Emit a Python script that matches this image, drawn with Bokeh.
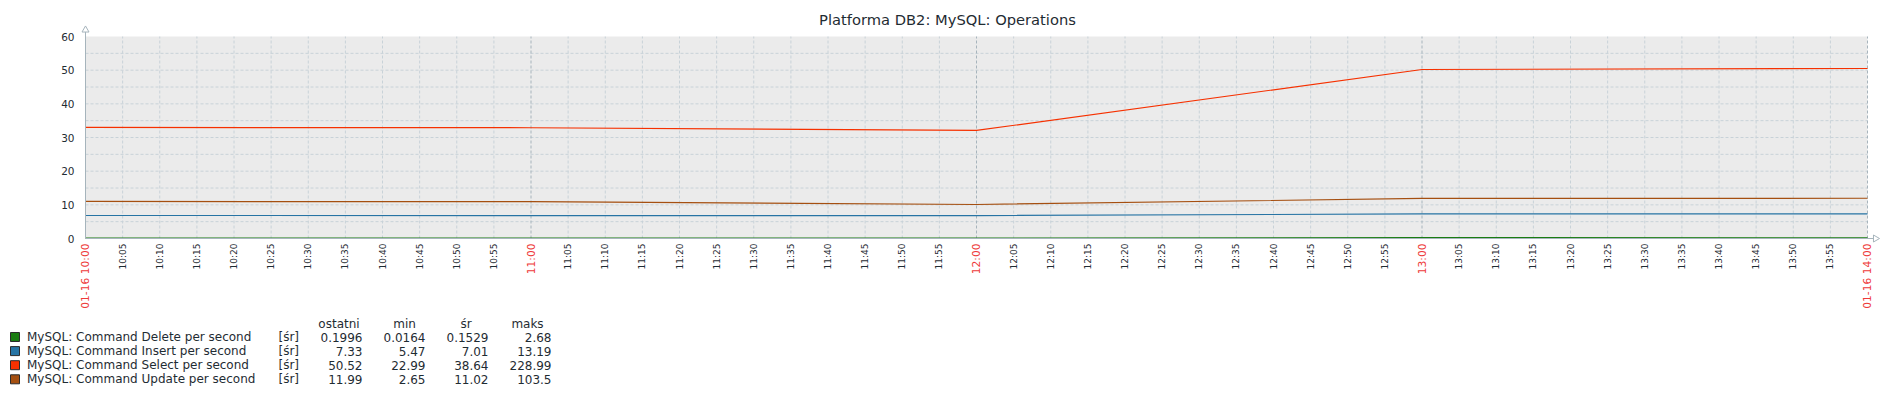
import pandas as pd
from math import pi
from bokeh.plotting import figure
from bokeh.models import Range1d
from bokeh.core.properties import value
from bokeh.embed import file_html
from bokeh.resources import INLINE

# ---------------- data ----------------
title_text = "Platforma DB2: MySQL: Operations"
times = pd.to_datetime(["2024-01-16 10:00", "2024-01-16 11:00", "2024-01-16 12:00",
                        "2024-01-16 13:00", "2024-01-16 14:00"])
delete_vals = [0.10, 0.10, 0.10, 0.25, 0.20]
insert_vals = [6.83, 6.82, 6.80, 7.30, 7.33]
select_vals = [33.0, 32.9, 32.1, 50.2, 50.5]
update_vals = [11.0, 10.95, 10.1, 11.9, 11.95]

series_names = ["MySQL: Command Delete per second", "MySQL: Command Insert per second",
                "MySQL: Command Select per second", "MySQL: Command Update per second"]
series_colors = ["#1A7C11", "#2774A4", "#F63100", "#A54F10"]
func_label = "[śr]"
col_headers = ["ostatni", "min", "śr", "maks"]
last_vals = ["0.1996", "7.33", "50.52", "11.99"]
min_vals = ["0.0164", "5.47", "22.99", "2.65"]
avg_vals = ["0.1529", "7.01", "38.64", "11.02"]
max_vals = ["2.68", "13.19", "228.99", "103.5"]

y_ticks = [0, 10, 20, 30, 40, 50, 60]
y_tick_labels = ["0", "10", "20", "30", "40", "50", "60"]
y_grid = [5, 10, 15, 20, 25, 30, 35, 40, 45, 50, 55]
hour_labels = ["01-16 10:00", "11:00", "12:00", "13:00", "01-16 14:00"]
five_min = pd.date_range("2024-01-16 10:00", "2024-01-16 14:00", freq="5min")
minor_times = [t for t in five_min if t.minute != 0]
minor_labels = [t.strftime("%H:%M") for t in minor_times]

# ---------------- styles / layout ----------------
TXT = "#1f2c33"
RED = "#ee3a3a"
AXIS = "#a6b4bc"
GRID = "#c8d2d8"
GRID_MAJ = "#a7b4bc"
BG = "#ebebeb"
FONT = value("DejaVu Sans")

W, HT = 1890, 389                    # canvas (page pixels)
FL, FR, FT, FB = 85, 1867, 36, 238   # plot area edges in page pixels
Y0, Y1 = 0, 60

def ms(t):
    return t.value / 1e6

t0, t1 = ms(times[0]), ms(times[-1])
ms_per_px = (t1 - t0) / (FR - FL)
val_per_px = (Y1 - Y0) / (FB - FT)

p = figure(width=W, height=HT, x_range=Range1d(0, W), y_range=Range1d(HT, 0),
           output_backend="svg", toolbar_location=None, min_border=0,
           x_axis_location=None, y_axis_location=None)
p.grid.visible = False
p.outline_line_color = None
p.background_fill_color = "white"
p.border_fill_color = "white"
# time / value scales placed so that the chart area is [FL,FR] x [FT,FB]
p.extra_x_ranges = {"time": Range1d(t0 - FL * ms_per_px, t1 + (W - FR) * ms_per_px)}
p.extra_y_ranges = {"val": Range1d(Y0 - (HT - FB) * val_per_px, Y1 + FT * val_per_px)}
TV = dict(x_range_name="time", y_range_name="val")

# chart area background
p.quad(left=[t0], right=[t1], bottom=[Y0], top=[Y1], fill_color=BG, line_color=None, **TV)

# grid
p.segment(x0=t0, x1=t1, y0=y_grid, y1=y_grid, line_color=GRID, line_dash="3 2", line_width=1, **TV)
minor_ms = [ms(t) for t in minor_times]
p.segment(x0=minor_ms, x1=minor_ms, y0=Y0, y1=Y1, line_color=GRID, line_dash="3 2", line_width=1, **TV)
hour_ms = [ms(t) for t in times[1:]]
p.segment(x0=hour_ms, x1=hour_ms, y0=Y0, y1=Y1, line_color=GRID_MAJ, line_dash="3 2", line_width=1, **TV)

# series
for vals, col in zip([delete_vals, insert_vals, select_vals, update_vals], series_colors):
    p.line([ms(t) for t in times], vals, line_color=col, line_width=1.2, **TV)

# axes lines with arrow heads
p.segment(x0=[t0], x1=[t0], y0=[Y0], y1=[Y1 + 5 * val_per_px], line_color=AXIS, line_width=1, **TV)
p.segment(x0=[t0], x1=[t1 + 6 * ms_per_px], y0=[Y0], y1=[Y0], line_color=AXIS, line_width=1, **TV)
p.scatter(x=[t0], y=[Y1 + 6.5 * val_per_px], marker="triangle", size=7, angle=0,
          fill_color="white", line_color=AXIS, line_width=1, **TV)
p.scatter(x=[t1 + 8 * ms_per_px], y=[Y0], marker="triangle", size=7, angle=-pi / 2,
          fill_color="white", line_color=AXIS, line_width=1, **TV)

# y tick labels
p.text(x=FL - 11, y=y_ticks, text=y_tick_labels, y_range_name="val", text_align="right",
       text_baseline="middle", text_font=FONT, text_font_size="10.5px", text_color=TXT)

# title
p.text(x=[947], y=[19], text=[title_text], text_align="center", text_baseline="middle",
       text_font=FONT, text_font_size="14.7px", text_color=TXT)

# rotated time labels
p.text(x=minor_ms, y=FB + 5, text=minor_labels, angle=pi / 2, x_range_name="time",
       text_align="right", text_baseline="middle", text_font=FONT,
       text_font_size="9px", text_color=TXT)
p.text(x=[ms(t) for t in times], y=FB + 5, text=hour_labels, angle=pi / 2, x_range_name="time",
       text_align="right", text_baseline="middle", text_font=FONT,
       text_font_size="10.7px", text_color=RED)

# legend table
LEG_FS = "12px"
rows_y = [336.5 + 14.1 * i for i in range(len(series_names))]
p.rect(x=14.5, y=rows_y, width=9, height=9, fill_color=series_colors, line_color="#2b2b2b", line_width=1)
p.text(x=26.5, y=rows_y, text=series_names, text_align="left", text_baseline="middle",
       text_font=FONT, text_font_size=LEG_FS, text_color=TXT)
p.text(x=278, y=rows_y, text=[func_label] * len(series_names), text_align="left", text_baseline="middle",
       text_font=FONT, text_font_size=LEG_FS, text_color=TXT)
for xr, vals in zip([362, 425, 488, 551], [last_vals, min_vals, avg_vals, max_vals]):
    p.text(x=xr, y=rows_y, text=vals, text_align="right", text_baseline="middle",
           text_font=FONT, text_font_size=LEG_FS, text_color=TXT)
p.text(x=[338.5, 404, 465.5, 527], y=323.7, text=col_headers, text_align="center", text_baseline="middle",
       text_font=FONT, text_font_size=LEG_FS, text_color=TXT)

open("out.html", "w").write(file_html(p, INLINE))
